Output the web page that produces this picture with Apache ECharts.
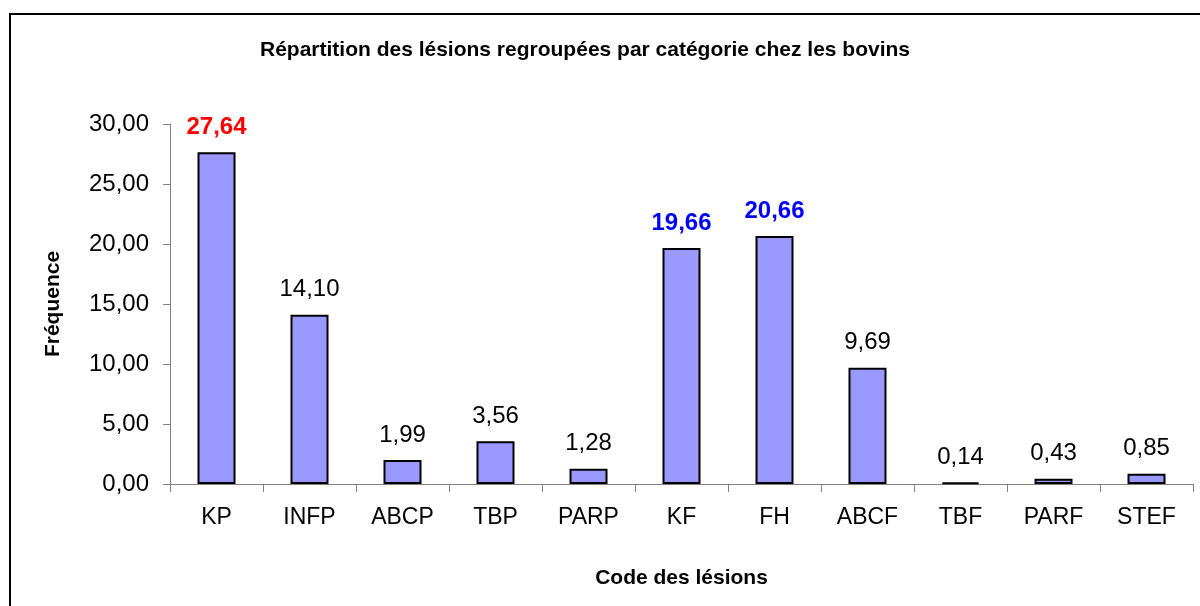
<!DOCTYPE html>
<html>
<head>
<meta charset="utf-8">
<script src="https://cdn.jsdelivr.net/npm/echarts@6/dist/echarts.min.js"></script>
<style>
  html, body { margin: 0; padding: 0; background: #fff; }
  #chart { width: 1200px; height: 606px; }
</style>
</head>
<body>
<div id="chart"></div>
<script>
// données
var categories = ['KP', 'INFP', 'ABCP', 'TBP', 'PARP', 'KF', 'FH', 'ABCF', 'TBF', 'PARF', 'STEF'];
var frequences = [27.64, 14.10, 1.99, 3.56, 1.28, 19.66, 20.66, 9.69, 0.14, 0.43, 0.85];
var labelColors = ['#ff0000', '#000', '#000', '#000', '#000', '#0000ff', '#0000ff', '#000', '#000', '#000', '#000'];
var yTicks = [0, 5, 10, 15, 20, 25, 30];

function virgule(v) {
  return v.toFixed(2).replace('.', ',');
}

var font = '"Liberation Sans", Arial, sans-serif';

var chart = echarts.init(document.getElementById('chart'));
chart.setOption({
  backgroundColor: '#fff',
  animation: false,
  graphic: [{
    type: 'rect',
    shape: { x: 10, y: 14, width: 1200, height: 600 },
    style: { fill: 'none', stroke: '#000', lineWidth: 2 }
  }],
  title: {
    text: 'Répartition des lésions regroupées par catégorie chez les bovins',
    left: 580,
    textAlign: 'center',
    top: 35,
    textStyle: {
      fontFamily: font,
      fontSize: 21,
      fontWeight: 'bold',
      color: '#000'
    }
  },
  grid: {
    left: 170,
    right: 7,
    top: 124,
    bottom: 122
  },
  xAxis: {
    type: 'category',
    data: categories,
    name: 'Code des lésions',
    nameLocation: 'middle',
    nameGap: 84,
    nameTextStyle: { fontFamily: font, fontSize: 21, fontWeight: 'bold', color: '#000' },
    axisLine: { lineStyle: { color: '#808080', width: 1 } },
    axisTick: { show: true, length: 8, lineStyle: { color: '#808080' } },
    axisLabel: { fontFamily: font, fontSize: 23, color: '#000', margin: 22 }
  },
  yAxis: {
    type: 'value',
    min: yTicks[0],
    max: yTicks[yTicks.length - 1],
    interval: 5,
    name: 'Fréquence',
    nameLocation: 'middle',
    nameGap: 106,
    nameTextStyle: { fontFamily: font, fontSize: 21, fontWeight: 'bold', color: '#000' },
    axisLine: { show: true, lineStyle: { color: '#808080', width: 1 } },
    axisTick: { show: true, length: 7, lineStyle: { color: '#808080' } },
    splitLine: { show: false },
    axisLabel: {
      fontFamily: font,
      fontSize: 24,
      color: '#000',
      margin: 21,
      formatter: function (v) { return virgule(v); }
    }
  },
  series: [{
    type: 'bar',
    barWidth: 38,
    data: frequences.map(function (v, i) {
      return {
        value: v,
        label: {
          color: labelColors[i],
          fontWeight: labelColors[i] === '#000' ? 'normal' : 'bold'
        }
      };
    }),
    itemStyle: {
      color: '#9999ff',
      borderColor: '#000',
      borderWidth: 2
    },
    label: {
      show: true,
      position: 'top',
      distance: 13,
      fontFamily: font,
      fontSize: 24,
      formatter: function (p) { return virgule(p.value); }
    }
  }]
});
</script>
</body>
</html>
